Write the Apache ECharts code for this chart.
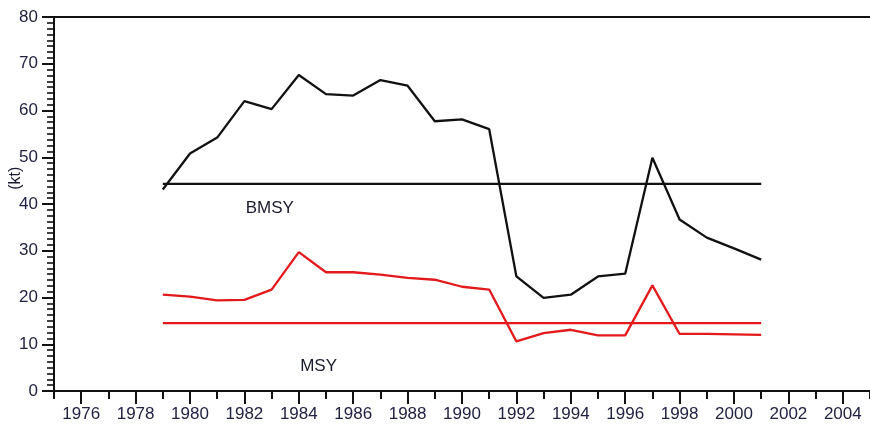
<!DOCTYPE html>
<html>
<head>
<meta charset="utf-8">
<style>
  html, body { margin: 0; padding: 0; background: #fff; }
  #chart { width: 870px; height: 428px; }
</style>
<script src="https://cdn.jsdelivr.net/npm/echarts@6/dist/echarts.min.js"></script>
</head>
<body>
<div id="chart"></div>
<script>
// Stock biomass and catch by year (kt)
const years = [1979, 1980, 1981, 1982, 1983, 1984, 1985, 1986, 1987, 1988, 1989, 1990,
               1991, 1992, 1993, 1994, 1995, 1996, 1997, 1998, 1999, 2000, 2001];
const biomass = [43.1, 50.8, 54.2, 62.0, 60.3, 67.6, 63.5, 63.2, 66.5, 65.3, 57.7, 58.1,
                 56.0, 24.5, 19.9, 20.6, 24.5, 25.1, 49.9, 36.7, 32.8, 30.5, 28.1];
const catches = [20.6, 20.2, 19.4, 19.5, 21.7, 29.7, 25.4, 25.4, 24.9, 24.2, 23.8, 22.3,
                 21.7, 10.6, 12.4, 13.1, 11.9, 11.9, 22.6, 12.2, 12.2, 12.1, 12.0];
// Reference levels
const bmsy = 44.3;
const msy = 14.5;
// Axis ticks
const majorYears = [1976, 1978, 1980, 1982, 1984, 1986, 1988, 1990, 1992, 1994, 1996, 1998, 2000, 2002, 2004];
const minorYears = [1975, 1977, 1979, 1981, 1983, 1985, 1987, 1989, 1991, 1993, 1995, 1997, 1999, 2001, 2003, 2005];

const FONT = '"Liberation Sans Narrow", "Arial Narrow", "Liberation Sans", Arial, sans-serif';
const TEXT_COLOR = '#222244';
const BLACK = '#111111';
const RED = '#e3191c';

const chart = echarts.init(document.getElementById('chart'), null, { renderer: 'canvas' });

const pairs = (xs, ys) => xs.map((x, i) => [x, ys[i]]);
const firstYear = years[0];
const lastYear = years[years.length - 1];

const option = {
  animation: false,
  backgroundColor: '#ffffff',
  grid: { left: 54, right: 0, top: 17, bottom: 37 },
  xAxis: [
    {
      type: 'value', min: 1975, max: 2005, position: 'bottom',
      axisLine: { show: true, lineStyle: { color: BLACK, width: 2 } },
      axisTick: { show: true, customValues: majorYears, length: 13, lineStyle: { color: BLACK, width: 2 } },
      axisLabel: {
        customValues: majorYears, margin: 15, fontFamily: FONT, fontSize: 17, color: TEXT_COLOR,
        formatter: v => String(v)
      },
      splitLine: { show: false }
    },
    {
      type: 'value', min: 1975, max: 2005, position: 'bottom', offset: 0,
      axisLine: { show: false },
      axisTick: { show: true, customValues: minorYears, length: 8, lineStyle: { color: BLACK, width: 2 } },
      axisLabel: { show: false },
      splitLine: { show: false }
    },
    {
      type: 'value', min: 1975, max: 2005, position: 'top', offset: 0,
      axisLine: { show: true, lineStyle: { color: BLACK, width: 2 } },
      axisTick: { show: false },
      axisLabel: { show: false },
      splitLine: { show: false }
    }
  ],
  yAxis: {
    type: 'value', min: 0, max: 80, interval: 10,
    axisLine: { show: true, lineStyle: { color: BLACK, width: 2 } },
    axisTick: { show: true, length: 12, lineStyle: { color: BLACK, width: 2 } },
    minorTick: { show: true, splitNumber: 8, length: 7, lineStyle: { color: BLACK, width: 1.6 } },
    axisLabel: { margin: 16, fontFamily: FONT, fontSize: 17, color: TEXT_COLOR },
    splitLine: { show: false }
  },
  series: [
    {
      name: 'Biomass', type: 'line', xAxisIndex: 0, symbol: 'none',
      data: pairs(years, biomass),
      lineStyle: { color: BLACK, width: 2.3 }
    },
    {
      name: 'BMSY', type: 'line', xAxisIndex: 0, symbol: 'none',
      data: [[firstYear, bmsy], [lastYear, bmsy]],
      lineStyle: { color: BLACK, width: 2.3 }
    },
    {
      name: 'Catch', type: 'line', xAxisIndex: 0, symbol: 'none',
      data: pairs(years, catches),
      lineStyle: { color: RED, width: 2.3 }
    },
    {
      name: 'MSY', type: 'line', xAxisIndex: 0, symbol: 'none',
      data: [[firstYear, msy], [lastYear, msy]],
      lineStyle: { color: RED, width: 2.3 }
    }
  ]
};

chart.setOption(option);

// Text annotations placed in data space
const bmsyPos = chart.convertToPixel({ xAxisIndex: 0, yAxisIndex: 0 }, [1982.05, bmsy - 5.3]);
const msyPos = chart.convertToPixel({ xAxisIndex: 0, yAxisIndex: 0 }, [1984.05, msy - 9.3]);
const axisMid = chart.convertToPixel({ xAxisIndex: 0, yAxisIndex: 0 }, [1975, 45.5]);

chart.setOption({
  graphic: [
    {
      type: 'text', x: bmsyPos[0], y: bmsyPos[1],
      style: { text: 'BMSY', font: '17px ' + FONT, fill: '#1a1a2e', verticalAlign: 'middle', align: 'left' }
    },
    {
      type: 'text', x: msyPos[0], y: msyPos[1],
      style: { text: 'MSY', font: '17px ' + FONT, fill: '#1a1a2e', verticalAlign: 'middle', align: 'left' }
    },
    {
      type: 'text', x: 16, y: axisMid[1], rotation: Math.PI / 2,
      style: { text: '(kt)', font: '16px ' + FONT, fill: '#1a1a2e', verticalAlign: 'middle', align: 'center' }
    }
  ]
});
</script>
</body>
</html>
